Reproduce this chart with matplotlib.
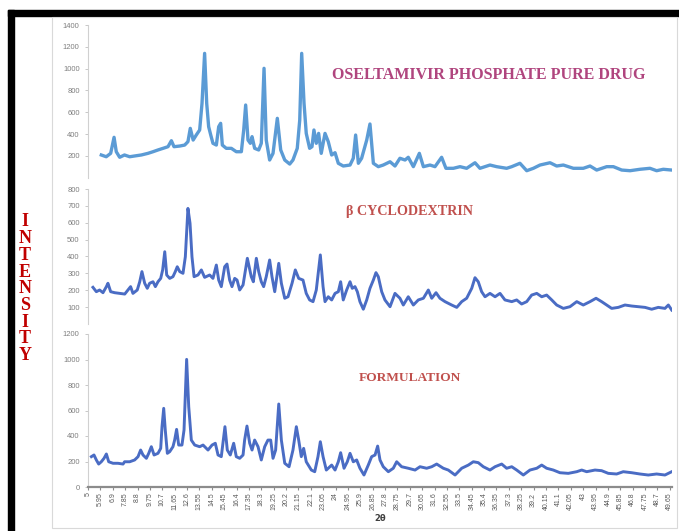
import matplotlib
matplotlib.use('Agg')
import matplotlib.pyplot as plt
from matplotlib.patches import Rectangle

W, H = 679, 531
DPI = 100

# 2-theta tick labels (every 0.95 deg, as in the original Excel export)
TICK_START = 5.0
TICK_STEP = 0.95
N_TICKS = 48

# Oseltamivir phosphate pure drug
drug_theta = [6.02, 6.40, 6.74, 7.00, 7.17, 7.43, 7.80, 8.20, 8.58, 9.09, 9.60, 9.99,
              10.37, 10.76, 11.14, 11.40, 11.60, 12.04, 12.42, 12.67, 12.85, 13.07,
              13.31, 13.57, 13.75, 13.95, 14.11, 14.26, 14.42, 14.59, 14.85, 15.03,
              15.18, 15.31, 15.61, 16.00, 16.38, 16.77, 16.95, 17.10, 17.28, 17.46,
              17.59, 17.79, 18.10, 18.30, 18.51, 18.68, 18.94, 19.20, 19.53, 19.79,
              20.10, 20.48, 20.73, 21.06, 21.25, 21.40, 21.58, 21.75, 22.01, 22.19,
              22.34, 22.52, 22.70, 22.90, 23.19, 23.44, 23.70, 23.96, 24.21, 24.59,
              25.11, 25.36, 25.54, 25.75, 26.00, 26.39, 26.64, 26.90, 27.28, 27.66,
              28.18, 28.56, 28.94, 29.33, 29.58, 29.97, 30.43, 30.74, 31.25, 31.63,
              32.14, 32.47, 33.04, 33.55, 34.06, 34.70, 35.08, 35.85, 36.36, 37.13,
              37.52, 38.15, 38.67, 39.18, 39.69, 40.46, 40.97, 41.48, 42.25, 43.01,
              43.53, 44.04, 44.81, 45.32, 45.96, 46.60, 47.36, 48.13, 48.64, 49.15,
              49.80]
drug_int = [209, 193, 224, 371, 239, 188, 209, 193, 200, 209, 224, 239,
            255, 270, 285, 340, 285, 291, 300, 331, 453, 346,
            392, 438, 682, 1140, 682, 468, 392, 316, 300, 468,
            499, 300, 270, 270, 239, 239, 438, 667, 346, 316,
            377, 270, 255, 316, 1003, 346, 163, 224, 545, 255,
            163, 126, 163, 270, 529, 1140, 682, 407, 270, 285,
            438, 316, 407, 224, 407, 331, 209, 230, 133, 108,
            117, 179, 392, 133, 179, 346, 493, 133, 102, 117,
            147, 108, 179, 163, 188, 102, 224, 102, 117, 102,
            188, 87, 87, 102, 87, 138, 87, 117, 102, 87,
            102, 133, 65, 87, 117, 138, 108, 117, 87, 87,
            108, 71, 102, 102, 71, 65, 78, 87, 65, 78,
            71]

# beta cyclodextrin
bcd_theta = [5.38, 5.64, 5.89, 6.15, 6.41, 6.53, 6.74, 7.05, 7.43, 7.82, 8.07, 8.27,
             8.45, 8.78, 8.97, 9.14, 9.35, 9.55, 9.73, 9.99, 10.17, 10.37, 10.58,
             10.73, 10.89, 11.04, 11.27, 11.52, 11.70, 11.85, 12.04, 12.29, 12.47,
             12.67, 12.83, 12.98, 13.14, 13.44, 13.70, 13.95, 14.34, 14.59, 14.85,
             15.03, 15.23, 15.49, 15.67, 15.87, 16.05, 16.26, 16.44, 16.64, 16.90,
             17.23, 17.53, 17.69, 17.92, 18.10, 18.30, 18.48, 18.68, 18.94, 19.12,
             19.33, 19.64, 19.84, 20.10, 20.35, 20.66, 20.91, 21.17, 21.50, 21.75,
             22.01, 22.27, 22.52, 22.83, 23.04, 23.19, 23.44, 23.70, 23.96, 24.21,
             24.39, 24.59, 24.85, 25.11, 25.28, 25.49, 25.67, 25.87, 26.13, 26.39,
             26.64, 26.90, 27.10, 27.28, 27.54, 27.79, 28.18, 28.56, 28.94, 29.20,
             29.58, 29.97, 30.35, 30.74, 31.12, 31.38, 31.71, 32.01, 32.40, 32.91,
             33.30, 33.68, 34.06, 34.45, 34.70, 34.95, 35.21, 35.47, 35.85, 36.24,
             36.62, 37.00, 37.52, 37.90, 38.28, 38.67, 39.05, 39.44, 39.82, 40.20,
             40.59, 40.97, 41.48, 41.99, 42.51, 43.01, 43.53, 43.99, 44.42, 44.81,
             45.19, 45.70, 46.21, 46.73, 47.23, 47.75, 48.26, 48.77, 49.28, 49.54,
             49.80]
bcd_int = [217, 191, 201, 185, 221, 241, 191, 185, 181, 177, 201, 221,
           181, 201, 250, 310, 241, 211, 241, 250, 221, 250, 270,
           320, 428, 290, 270, 280, 310, 339, 310, 300, 398,
           685, 597, 398, 280, 290, 320, 276, 290, 270, 349,
           260, 221, 339, 355, 260, 221, 270, 260, 201, 231,
           389, 280, 250, 389, 310, 250, 221, 280, 379, 280,
           191, 359, 241, 152, 161, 241, 320, 270, 260, 181,
           142, 132, 201, 409, 221, 132, 161, 142, 181, 191,
           250, 142, 201, 250, 211, 221, 191, 132, 87, 142,
           211, 260, 304, 280, 191, 142, 102, 181, 152, 112,
           161, 112, 142, 152, 201, 152, 185, 152, 132, 112,
           98, 132, 152, 211, 274, 250, 191, 161, 181, 161,
           181, 142, 132, 142, 118, 132, 171, 181, 161, 171,
           142, 112, 92, 102, 132, 112, 132, 152, 132, 112,
           92, 98, 112, 106, 102, 98, 87, 98, 92, 112,
           82]

# formulation
form_theta = [5.26, 5.46, 5.64, 5.82, 6.02, 6.23, 6.41, 6.59, 6.92, 7.30, 7.69, 7.81,
              8.20, 8.58, 8.84, 9.04, 9.22, 9.48, 9.66, 9.86, 10.07, 10.37, 10.58,
              10.68, 10.81, 10.93, 11.09, 11.27, 11.52, 11.65, 11.80, 11.96, 12.21,
              12.37, 12.57, 12.73, 12.93, 13.19, 13.57, 13.83, 14.21, 14.52, 14.77,
              14.98, 15.23, 15.51, 15.69, 15.92, 16.18, 16.38, 16.64, 16.90, 17.02,
              17.20, 17.41, 17.59, 17.79, 18.05, 18.30, 18.56, 18.81, 19.02, 19.20,
              19.40, 19.64, 19.84, 20.10, 20.43, 20.73, 20.99, 21.17, 21.37, 21.55,
              21.75, 22.14, 22.40, 22.65, 22.83, 23.04, 23.29, 23.70, 23.96, 24.21,
              24.39, 24.65, 24.90, 25.11, 25.36, 25.62, 25.87, 26.18, 26.51, 26.77,
              27.03, 27.23, 27.41, 27.66, 28.05, 28.43, 28.69, 29.07, 29.58, 30.10,
              30.48, 30.99, 31.38, 31.76, 32.27, 32.65, 33.17, 33.68, 34.19, 34.57,
              34.95, 35.34, 35.85, 36.24, 36.75, 37.13, 37.52, 37.90, 38.41, 38.92,
              39.44, 39.82, 40.20, 40.71, 41.22, 41.86, 42.51, 42.89, 43.27, 43.91,
              44.42, 44.93, 45.57, 46.08, 46.73, 47.36, 48.00, 48.64, 49.28, 49.80]
form_int = [238, 251, 212, 180, 198, 225, 259, 198, 186, 186, 180, 198,
            198, 212, 238, 290, 251, 225, 264, 316, 251, 264, 303,
            473, 617, 447, 264, 277, 316, 368, 452, 329, 329,
            447, 1001, 630, 368, 329, 316, 329, 290, 329, 343,
            251, 238, 473, 290, 251, 343, 238, 225, 251, 368,
            478, 343, 290, 368, 316, 212, 316, 368, 368, 225,
            290, 651, 368, 186, 159, 290, 473, 368, 238, 303,
            198, 133, 120, 238, 355, 238, 133, 172, 133, 198,
            269, 147, 198, 264, 198, 212, 147, 94, 172, 238,
            251, 321, 212, 159, 120, 147, 198, 159, 147, 133,
            159, 147, 159, 180, 147, 133, 94, 147, 172, 198,
            191, 159, 133, 159, 180, 147, 159, 133, 94, 133,
            147, 172, 147, 133, 112, 107, 120, 133, 120, 133,
            128, 107, 102, 120, 112, 102, 94, 102, 94, 120]

LIGHT_BLUE = '#5b9bd5'
BLUE = '#4a6cc4'
TICK_GRAY = '#7f7f7f'
SERIF = 'Liberation Serif'


def px_rect(left, top, right, bottom):
    # pixel box (origin top-left) -> figure fraction rect
    return [left / W, 1 - bottom / H, (right - left) / W, (bottom - top) / H]


def style_panel(ax, yticks, ymax):
    ax.set_xlim(5, 49.82)
    ax.set_ylim(0, ymax)
    for s in ('top', 'right', 'bottom'):
        ax.spines[s].set_visible(False)
    ax.spines['left'].set_color('#d0d0d0')
    ax.spines['left'].set_linewidth(0.8)
    ax.set_yticks(yticks)
    ax.tick_params(axis='y', length=2, width=0.6, color='#bfbfbf', pad=4,
                   labelsize=5.5, labelcolor=TICK_GRAY)
    ax.tick_params(axis='x', bottom=False, labelbottom=False)
    for lab in ax.get_yticklabels():
        lab.set_family('Liberation Sans')
    ax.patch.set_alpha(0)


def main():
    fig = plt.figure(figsize=(W / DPI, H / DPI), dpi=DPI)
    fig.patch.set_facecolor('white')

    # black frame left/top and the light chart-area box
    fig.patches.append(Rectangle((8 / W, 0), 6 / W, 1 - 10 / H, transform=fig.transFigure,
                                 color='black', zorder=0))
    fig.patches.append(Rectangle((8 / W, 1 - 16 / H), 1 - 8 / W, 6 / H,
                                 transform=fig.transFigure, color='black', zorder=0))
    fig.patches.append(Rectangle((52 / W, 1 - 528 / H), 625 / W, 511 / H,
                                 transform=fig.transFigure, fill=False,
                                 edgecolor='#d9d9d9', linewidth=0.8, zorder=0))

    ax1 = fig.add_axes(px_rect(88, 25, 672, 177.8))
    ax1.plot(drug_theta, drug_int, color=LIGHT_BLUE, linewidth=2.4,
             solid_joinstyle='round')
    style_panel(ax1, range(200, 1401, 200), 1400)

    ax2 = fig.add_axes(px_rect(88, 189, 672, 323.9))
    ax2.plot(bcd_theta, bcd_int, color=BLUE, linewidth=2.1, solid_joinstyle='round')
    style_panel(ax2, range(100, 801, 100), 800)

    ax3 = fig.add_axes(px_rect(88, 334, 672, 487))
    ax3.plot(form_theta, form_int, color=BLUE, linewidth=2.1, solid_joinstyle='round')
    style_panel(ax3, range(0, 1201, 200), 1200)
    ax3.spines['bottom'].set_visible(True)
    ax3.spines['bottom'].set_color('#8c8c8c')
    ax3.spines['bottom'].set_linewidth(1.6)
    ticks = [round(TICK_START + TICK_STEP * k, 2) for k in range(N_TICKS)]
    ax3.set_xticks(ticks)
    ax3.set_xticklabels(['{:g}'.format(t) for t in ticks], rotation=90,
                        fontsize=5, color='#595959', family='Liberation Sans')
    ax3.tick_params(axis='x', bottom=True, labelbottom=True, length=2,
                    color='#8c8c8c', pad=2)
    ax3.set_xlabel('2θ', fontsize=6, fontweight='bold', color='#404040', labelpad=3)

    # panel captions
    fig.text(489 / W, 1 - 75 / H, 'OSELTAMIVIR PHOSPHATE PURE DRUG', ha='center',
             va='center', family=SERIF, fontweight='bold', fontsize=11.5, color='#b0457e')
    fig.text(410 / W, 1 - 212 / H, 'β CYCLODEXTRIN', ha='center', va='center',
             family=SERIF, fontweight='bold', fontsize=10.2, color='#c0504d')
    fig.text(410 / W, 1 - 378 / H, 'FORMULATION', ha='center', va='center',
             family=SERIF, fontweight='bold', fontsize=9.6, color='#c0504d')

    for i, ch in enumerate('INTENSITY'):
        fig.text(25 / W, 1 - (222 + i * 16.7) / H, ch, ha='center', va='center',
                 family=SERIF, fontweight='bold', fontsize=13, color='#c00000')

    fig.savefig('out.png', dpi=DPI)


if __name__ == '__main__':
    main()
